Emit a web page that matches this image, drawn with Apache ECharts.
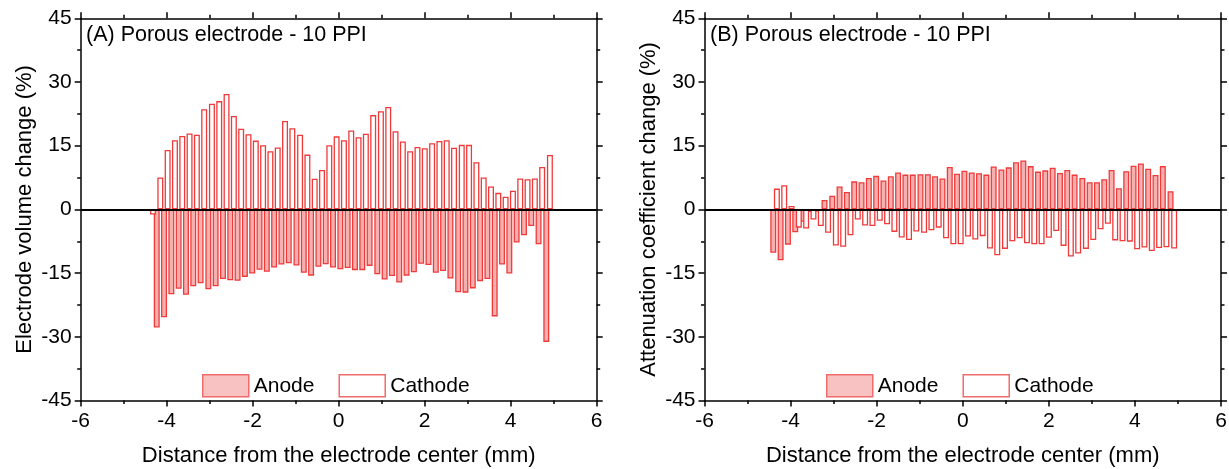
<!DOCTYPE html>
<html>
<head>
<meta charset="utf-8">
<script src="https://cdn.jsdelivr.net/npm/echarts/dist/echarts.min.js"></script>
<style>
  html, body { margin: 0; padding: 0; background: #fff; }
  #chart { width: 1229px; height: 469px; }
</style>
</head>
<body>
<div id="chart"></div>
<script>
// bar positions (mm), shared by both panels
var distance = [-4.36, -4.19, -4.02, -3.85, -3.68, -3.51, -3.34, -3.17, -2.99, -2.82,
  -2.65, -2.48, -2.31, -2.14, -1.97, -1.80, -1.63, -1.46, -1.29, -1.12,
  -0.94, -0.77, -0.60, -0.43, -0.26, -0.09, 0.08, 0.25, 0.42, 0.59,
  0.76, 0.94, 1.11, 1.28, 1.45, 1.62, 1.79, 1.96, 2.13, 2.30,
  2.47, 2.64, 2.82, 2.99, 3.16, 3.33, 3.50, 3.67, 3.84, 4.01,
  4.18, 4.35, 4.52, 4.69, 4.87];

// (A) electrode volume change (%)
var anodeA = [null, -27.8, -25.4, -20.0, -18.7, -20.1, -18.1, -17.4, -18.8, -18.1,
  -16.4, -16.7, -16.8, -15.9, -15.1, -14.2, -14.7, -13.7, -13.0, -12.7,
  -13.2, -14.9, -15.6, -13.5, -12.9, -13.7, -14.1, -13.8, -14.3, -14.3,
  -13.3, -15.3, -16.5, -15.7, -17.2, -15.6, -14.8, -12.8, -13.1, -14.9,
  -14.5, -16.3, -19.5, -19.6, -18.6, -16.9, -16.4, -25.2, -13.0, -15.1,
  -7.8, -6.1, -3.9, -8.2, -31.2];
var cathodeA = [-1.2, 7.5, 14.0, 16.3, 17.3, 17.9, 17.6, 23.6, 24.9, 25.5,
  27.2, 22.0, 19.0, 17.7, 16.2, 15.1, 13.7, 14.6, 20.8, 19.1,
  17.6, 12.9, 7.2, 9.3, 15.1, 17.2, 16.3, 18.6, 17.0, 17.8,
  22.2, 23.1, 24.1, 18.4, 16.0, 13.7, 14.7, 14.4, 15.6, 16.1,
  16.3, 14.5, 15.2, 15.2, 11.1, 7.5, 5.4, 3.9, 3.0, 4.4,
  7.3, 7.1, 7.3, 10.0, 12.8];

// (B) attenuation coefficient change (%)
var anodeB = [-10.2, -12.0, -8.3, -5.4, -2.9, -0.6, -0.5, 2.2, 3.2, 5.4,
  4.1, 6.6, 6.4, 7.4, 7.9, 6.8, 7.8, 8.7, 8.2, 8.2,
  8.3, 8.3, 7.8, 7.3, 10.0, 8.4, 9.1, 8.7, 8.5, 8.2,
  10.1, 9.4, 9.9, 11.1, 11.5, 10.2, 8.9, 9.2, 9.8, 8.6,
  9.3, 8.2, 7.4, 6.4, 6.4, 7.1, 9.3, 5.0, 9.0, 10.3,
  10.8, 9.6, 8.1, 10.2, 4.3];
var cathodeB = [4.9, 5.7, 0.8, -4.3, -4.5, -2.4, -3.9, -5.5, -8.5, -8.8,
  -6.1, -2.4, -3.8, -3.9, -2.7, -3.5, -5.3, -6.6, -7.2, -5.2,
  -5.5, -4.9, -4.3, -6.8, -8.2, -8.2, -6.4, -7.1, -6.3, -9.2,
  -10.8, -9.3, -7.5, -6.8, -8.0, -8.2, -8.2, -6.7, -5.1, -8.6,
  -11.1, -10.4, -9.3, -7.2, -4.7, -3.4, -7.3, -7.5, -7.6, -9.4,
  -9.0, -9.8, -9.1, -8.9, -9.2];

var xTicks = { min: -6, max: 6, interval: 2 };
var yTicks = { min: -45, max: 45, interval: 15 };
var panelTitles = ["(A) Porous electrode - 10 PPI", "(B) Porous electrode - 10 PPI"];
var yNames = ["Electrode volume change (%)", "Attenuation coefficient change (%)"];
var xName = "Distance from the electrode center (mm)";

var font = "Liberation Sans, Arial, sans-serif";
var red = "#f03a3a";
var pink = "#f7b0b0";

function pairs(vals) {
  return distance.map(function (d, i) {
    return [d, vals[i] == null ? "-" : vals[i]];
  });
}

function xAxisFor(grid, top) {
  return {
    type: "value",
    gridIndex: grid,
    position: top ? "top" : "bottom",
    min: xTicks.min,
    max: xTicks.max,
    interval: xTicks.interval,
    name: top ? "" : xName,
    nameLocation: "middle",
    nameGap: 44,
    nameTextStyle: { fontFamily: font, fontSize: 22, color: "#000" },
    axisLine: { onZero: false, lineStyle: { color: "#000", width: 1.5 } },
    axisTick: { length: 6, lineStyle: { width: 1.5 } },
    minorTick: { show: true, splitNumber: 2, length: 3.5, lineStyle: { color: "#000", width: 1.5 } },
    axisLabel: { show: !top, margin: 10, fontFamily: font, fontSize: 21, color: "#000" },
    splitLine: { show: false },
  };
}

function yAxisFor(grid, right) {
  return {
    type: "value",
    gridIndex: grid,
    position: right ? "right" : "left",
    min: yTicks.min,
    max: yTicks.max,
    interval: yTicks.interval,
    name: right ? "" : yNames[grid],
    nameLocation: "middle",
    nameGap: 45,
    nameTextStyle: { fontFamily: font, fontSize: 22, color: "#000" },
    axisLine: { onZero: false, lineStyle: { color: "#000", width: 1.5 } },
    axisTick: { length: 6, lineStyle: { width: 1.5 } },
    minorTick: { show: true, splitNumber: 2, length: 3.5, lineStyle: { color: "#000", width: 1.5 } },
    axisLabel: { show: !right, margin: 9, fontFamily: font, fontSize: 21, color: "#000" },
    splitLine: { show: false },
  };
}

function barSeries(name, vals, grid, filled, withZero) {
  var s = {
    name: name,
    type: "bar",
    xAxisIndex: grid * 2,
    yAxisIndex: grid * 2,
    barWidth: 6,
    barGap: "-40%",
    itemStyle: {
      color: filled ? pink : "#fff",
      borderColor: red,
      borderWidth: 1.3,
    },
    data: pairs(vals),
  };
  if (withZero) {
    s.markLine = {
      silent: true,
      symbol: "none",
      label: { show: false },
      lineStyle: { color: "#000", width: 2.2, type: "solid" },
      data: [{ yAxis: 0 }],
      z: 10,
    };
  }
  return s;
}

function legendFor(left) {
  return {
    left: left,
    top: 374,
    padding: 0,
    itemWidth: 46,
    itemHeight: 22,
    itemGap: 24,
    textStyle: { fontFamily: font, fontSize: 21, color: "#000" },
    data: [
      { name: "Anode", icon: "rect", itemStyle: { color: "#f9c2c2", borderColor: "#f06c6c", borderWidth: 1.5 } },
      { name: "Cathode", icon: "rect", itemStyle: { color: "#fff", borderColor: "#f06c6c", borderWidth: 1.5 } },
    ],
  };
}

var chartDom = document.getElementById("chart");
var myChart = echarts.init(chartDom);
var option = {
  animation: false,
  backgroundColor: "#fff",
  title: [
    { text: panelTitles[0], left: 86, top: 24, padding: 0,
      textStyle: { fontFamily: font, fontSize: 21.5, fontWeight: "normal", color: "#000" } },
    { text: panelTitles[1], left: 710, top: 24, padding: 0,
      textStyle: { fontFamily: font, fontSize: 21.5, fontWeight: "normal", color: "#000" } },
  ],
  legend: [legendFor(202), legendFor(826)],
  grid: [
    { left: 80.7, top: 18.3, width: 516, height: 382.2, outerBoundsMode: "none", containLabel: false },
    { left: 704.5, top: 18.3, width: 516.5, height: 382.2, outerBoundsMode: "none", containLabel: false },
  ],
  xAxis: [xAxisFor(0, false), xAxisFor(0, true), xAxisFor(1, false), xAxisFor(1, true)],
  yAxis: [yAxisFor(0, false), yAxisFor(0, true), yAxisFor(1, false), yAxisFor(1, true)],
  series: [
    barSeries("Anode", anodeA, 0, true, true),
    barSeries("Cathode", cathodeA, 0, false, false),
    barSeries("Anode", anodeB, 1, true, true),
    barSeries("Cathode", cathodeB, 1, false, false),
  ],
};
option && myChart.setOption(option);
</script>
</body>
</html>
